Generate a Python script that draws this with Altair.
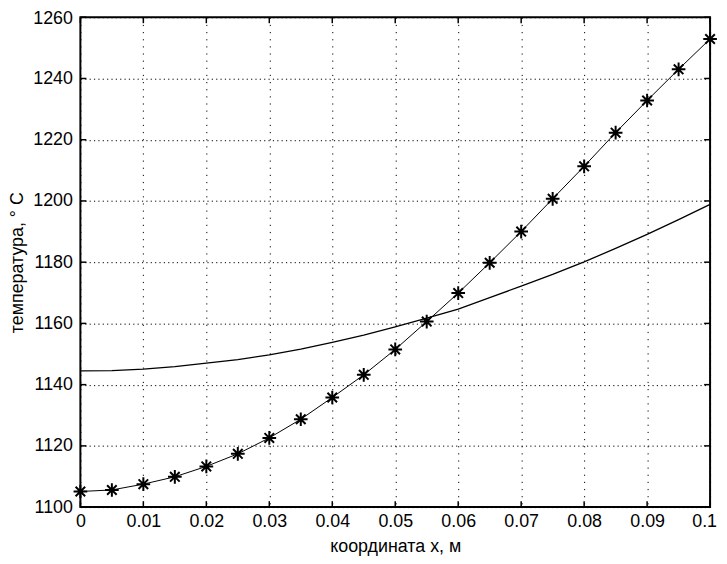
import altair as alt
import pandas as pd

x_vals = [0.0, 0.005, 0.01, 0.015, 0.02, 0.025, 0.03, 0.035, 0.04, 0.045, 0.05,
          0.055, 0.06, 0.065, 0.07, 0.075, 0.08, 0.085, 0.09, 0.095, 0.1]
t_star = [1105.1, 1105.6, 1107.5, 1109.9, 1113.3, 1117.4, 1122.6, 1128.7, 1135.8, 1143.2, 1151.5,
          1160.6, 1169.9, 1179.8, 1190.0, 1200.7, 1211.3, 1222.3, 1232.8, 1243.0, 1252.9]
t_smooth = [1144.5, 1144.6, 1145.1, 1145.9, 1147.0, 1148.2, 1149.7, 1151.6, 1153.8, 1156.2, 1158.9,
            1161.7, 1164.7, 1168.4, 1172.2, 1176.0, 1180.1, 1184.5, 1189.1, 1193.9, 1198.9]
x_ticks = [0, 0.01, 0.02, 0.03, 0.04, 0.05, 0.06, 0.07, 0.08, 0.09, 0.1]
y_ticks = [1100, 1120, 1140, 1160, 1180, 1200, 1220, 1240, 1260]

W, H = 635, 494
FONT = "Liberation Sans"

df = pd.DataFrame({"x": x_vals, "star": t_star, "smooth": t_smooth})
xt = pd.DataFrame({"x": x_ticks})
yt = pd.DataFrame({"y": y_ticks})

xs = alt.Scale(domain=[0, 0.1], nice=False, zero=False)
ys = alt.Scale(domain=[1100, 1260], nice=False, zero=False)

xaxis = alt.Axis(values=x_ticks, format="~g", grid=True, ticks=False, domain=False,
                 labelFlush=False,
                 labelOffset={"condition": {"test": "datum.value >= 0.099", "value": -6}, "value": 0},
                 title="координата х, м", labelPadding=6, titlePadding=7)
yaxis = alt.Axis(values=y_ticks, format="d", grid=True, ticks=False, domain=False,
                 labelFlush=False,
                 labelOffset={"condition": {"test": "datum.value >= 1259", "value": 1}, "value": 0},
                 title="температура, ° С", labelPadding=8, titlePadding=6)

base = alt.Chart(df)

smooth = base.mark_line(color="black", strokeWidth=1.3).encode(
    x=alt.X("x:Q", scale=xs, axis=xaxis),
    y=alt.Y("smooth:Q", scale=ys, axis=yaxis),
)
star_line = base.mark_line(color="black", strokeWidth=1).encode(
    x=alt.X("x:Q", scale=xs),
    y=alt.Y("star:Q", scale=ys),
)
star_pts = base.mark_point(
    shape="M-1,0L1,0M0,-1L0,1M-0.7,-0.7L0.7,0.7M-0.7,0.7L0.7,-0.7",
    filled=False, color="black", strokeWidth=2, size=190, opacity=1,
).encode(
    x=alt.X("x:Q", scale=xs),
    y=alt.Y("star:Q", scale=ys),
)

tick_len = 6
xb = alt.Chart(xt).mark_rule(color="black", strokeWidth=1.5).encode(
    x=alt.X("x:Q", scale=xs), y=alt.value(H), y2=alt.value(H - tick_len))
xtop = alt.Chart(xt).mark_rule(color="black", strokeWidth=1.5).encode(
    x=alt.X("x:Q", scale=xs), y=alt.value(0), y2=alt.value(tick_len))
yl = alt.Chart(yt).mark_rule(color="black", strokeWidth=1.5).encode(
    y=alt.Y("y:Q", scale=ys), x=alt.value(0), x2=alt.value(tick_len))
yr = alt.Chart(yt).mark_rule(color="black", strokeWidth=1.5).encode(
    y=alt.Y("y:Q", scale=ys), x=alt.value(W), x2=alt.value(W - tick_len))

chart = alt.layer(xb, xtop, yl, yr, smooth, star_line, star_pts).properties(
    width=W, height=H,
    autosize=alt.AutoSizeParams(type="none"),
    padding={"left": 73, "top": 7, "right": 9, "bottom": 50},
    background="white",
).configure_view(
    stroke="black", strokeWidth=2
).configure_axis(
    labelFont=FONT, labelFontSize=18, labelColor="black",
    titleFont=FONT, titleFontSize=18, titleFontWeight="normal", titleColor="black",
    gridColor="black", gridOpacity=1, gridWidth=1,
).configure_axisX(
    gridDash=[1.2, 6]
).configure_axisY(
    gridDash=[1.2, 3.2]
)

chart.save("out.html", embed_options={"renderer": "svg", "actions": False})
